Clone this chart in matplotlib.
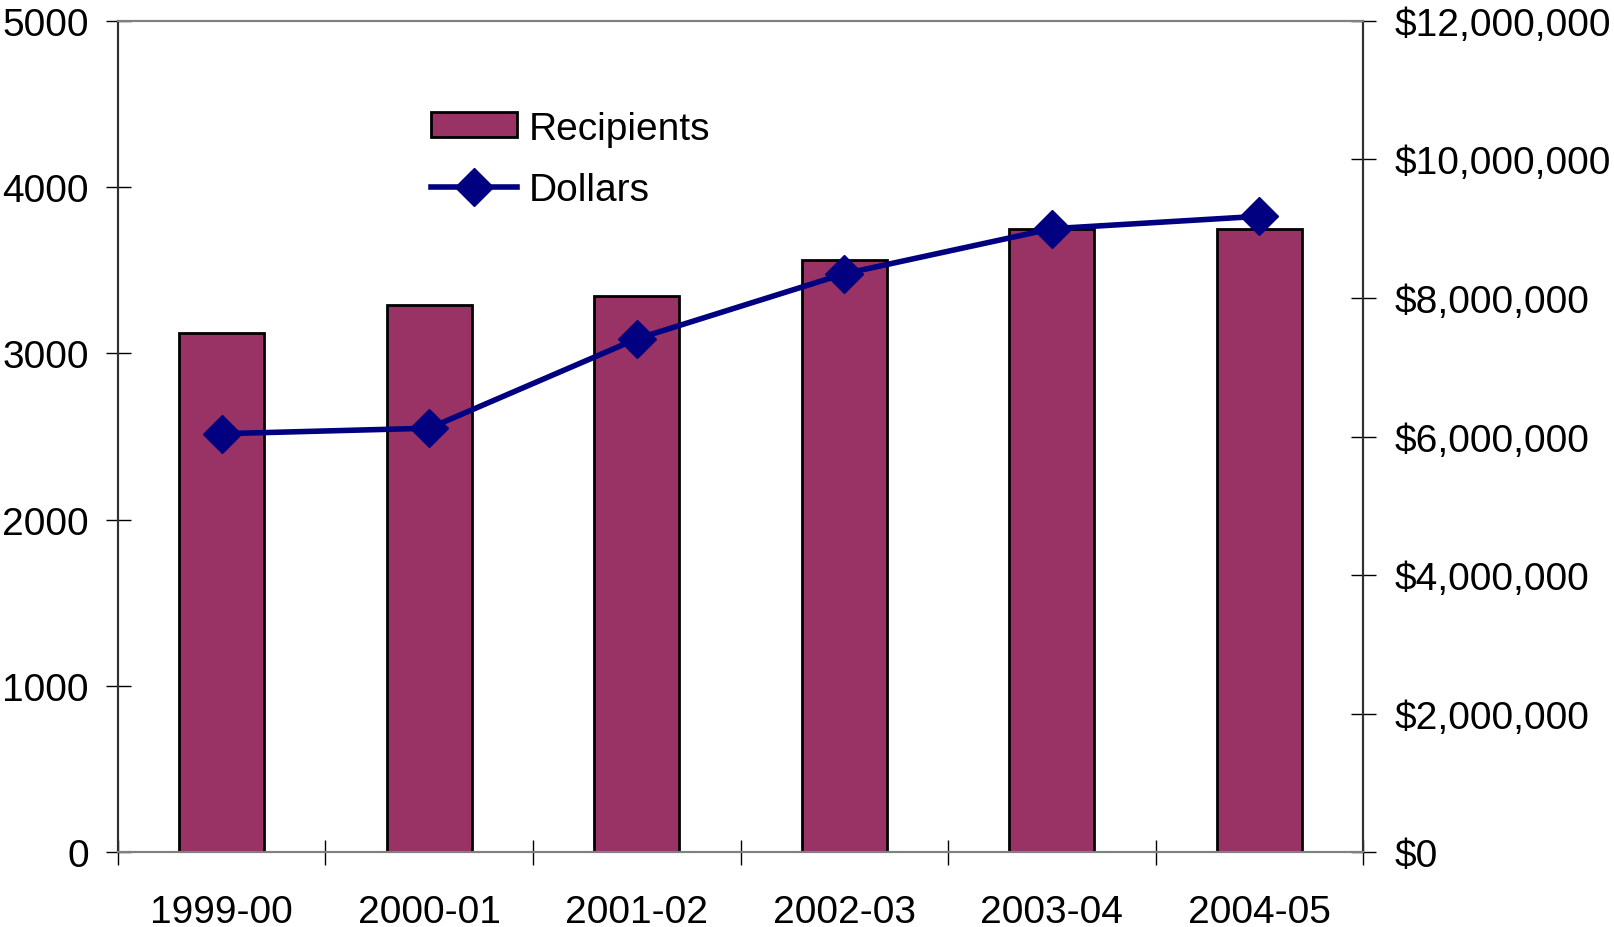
import matplotlib.pyplot as plt
import numpy as np
from matplotlib.ticker import FuncFormatter

# recipients and dollars by school year
years = ['1999-00', '2000-01', '2001-02', '2002-03', '2003-04', '2004-05']
recipients = [3120, 3290, 3345, 3562, 3748, 3748]
dollars = [6040000, 6120000, 7410000, 8350000, 9000000, 9180000]

plt.rcParams['font.family'] = ['Liberation Sans', 'DejaVu Sans']
plt.rcParams['font.size'] = 28

fig = plt.figure(figsize=(16.14, 9.28), dpi=100)
ax1 = fig.add_axes([0.0731, 0.0808, 0.7714, 0.8955])
ax2 = ax1.twinx()

x = np.arange(len(years))
bars = ax1.bar(x, recipients, width=0.41, color='#993366',
               edgecolor='black', linewidth=2, label='Recipients', zorder=2)
line, = ax2.plot(x, dollars, color='#000080', linewidth=4, marker='D',
                 markersize=19, label='Dollars', zorder=3)

ax1.set_xlim(-0.5, 5.5)
ax1.set_ylim(0, 5000)
ax2.set_ylim(0, 12000000)
ax1.set_yticks(np.arange(0, 5001, 1000))
ax2.set_yticks(np.arange(0, 12000001, 2000000))
ax2.yaxis.set_major_formatter(FuncFormatter(lambda v, p: '${:,.0f}'.format(v)))

# ticks between the categories, labels at the centres
ax1.set_xticks(np.arange(-0.5, 6, 1))
ax1.set_xticklabels([])
ax1.set_xticks(x, minor=True)
ax1.set_xticklabels(years, minor=True)
ax1.tick_params(axis='x', which='major', direction='inout', length=18, width=1)
ax1.tick_params(axis='x', which='minor', length=0, pad=30)
ax1.tick_params(axis='y', direction='inout', length=18, width=1, pad=12)
ax2.tick_params(axis='y', direction='inout', length=18, width=1, pad=14)

for a in (ax1, ax2):
    a.spines['top'].set_color('#808080')
    a.spines['bottom'].set_color('#808080')
    a.spines['left'].set_color('#303030')
    a.spines['right'].set_color('#303030')
    for s in a.spines.values():
        s.set_linewidth(1.5)

ax2.set_zorder(ax1.get_zorder() + 1)
ax2.patch.set_visible(False)

ax1.legend([bars, line], ['Recipients', 'Dollars'], loc='upper left',
           bbox_to_anchor=(0.239, 0.911), frameon=False, handlelength=2.2,
           handleheight=0.6, handletextpad=0.3, labelspacing=0.66,
           borderaxespad=0)

fig.savefig('out.png', dpi=100)
